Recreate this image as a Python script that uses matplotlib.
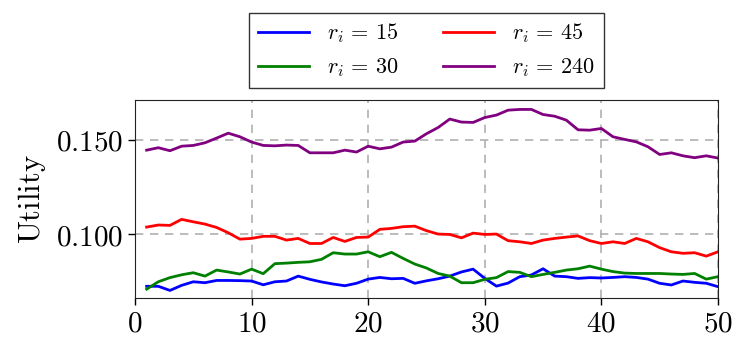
import numpy as np
import matplotlib
matplotlib.use('Agg')
import matplotlib.pyplot as plt
from matplotlib.ticker import FuncFormatter

plt.rcParams['mathtext.fontset'] = 'cm'
plt.rcParams['font.family'] = ['DejaVu Serif']

rounds = list(range(1, 51))

# r_i = 15
util_15 = [0.0723, 0.0723, 0.0701, 0.0728, 0.0747, 0.0742, 0.0754, 0.0754, 0.0753, 0.0751,
           0.0731, 0.0747, 0.0751, 0.0777, 0.0760, 0.0746, 0.0735, 0.0726, 0.0739, 0.0761,
           0.0770, 0.0763, 0.0765, 0.0739, 0.0752, 0.0763, 0.0777, 0.0799, 0.0814, 0.0765,
           0.0724, 0.0740, 0.0774, 0.0783, 0.0816, 0.0777, 0.0774, 0.0765, 0.0769, 0.0767,
           0.0770, 0.0774, 0.0770, 0.0761, 0.0739, 0.0730, 0.0751, 0.0744, 0.0739, 0.0721]
# r_i = 30
util_30 = [0.0708, 0.0747, 0.0769, 0.0784, 0.0795, 0.0777, 0.0809, 0.0799, 0.0788, 0.0814,
           0.0790, 0.0843, 0.0846, 0.0850, 0.0853, 0.0866, 0.0901, 0.0894, 0.0894, 0.0906,
           0.0880, 0.0903, 0.0871, 0.0841, 0.0820, 0.0791, 0.0777, 0.0742, 0.0742, 0.0760,
           0.0769, 0.0801, 0.0797, 0.0774, 0.0786, 0.0797, 0.0809, 0.0816, 0.0830, 0.0814,
           0.0801, 0.0793, 0.0791, 0.0791, 0.0791, 0.0788, 0.0786, 0.0791, 0.0761, 0.0774]
# r_i = 45
util_45 = [0.1037, 0.1048, 0.1046, 0.1078, 0.1065, 0.1053, 0.1035, 0.1007, 0.0973, 0.0977,
           0.0988, 0.0988, 0.0968, 0.0977, 0.0950, 0.0950, 0.0982, 0.0961, 0.0982, 0.0984,
           0.1025, 0.1030, 0.1039, 0.1042, 0.1018, 0.1000, 0.0998, 0.0980, 0.1005, 0.0998,
           0.1000, 0.0965, 0.0959, 0.0950, 0.0968, 0.0977, 0.0984, 0.0990, 0.0965, 0.0950,
           0.0959, 0.0950, 0.0977, 0.0959, 0.0928, 0.0906, 0.0898, 0.0901, 0.0883, 0.0906]
# r_i = 240
util_240 = [0.1445, 0.1458, 0.1442, 0.1466, 0.1470, 0.1484, 0.1509, 0.1535, 0.1516, 0.1488,
            0.1470, 0.1468, 0.1472, 0.1470, 0.1431, 0.1431, 0.1431, 0.1445, 0.1435, 0.1466,
            0.1452, 0.1461, 0.1488, 0.1493, 0.1532, 0.1565, 0.1610, 0.1594, 0.1592, 0.1618,
            0.1631, 0.1657, 0.1661, 0.1661, 0.1634, 0.1625, 0.1604, 0.1553, 0.1551, 0.1560,
            0.1516, 0.1502, 0.1489, 0.1463, 0.1422, 0.1431, 0.1415, 0.1405, 0.1415, 0.1403]

series = [
    (util_15, 'blue', r'$r_i\,=\,15$'),
    (util_30, 'green', r'$r_i\,=\,30$'),
    (util_45, 'red', r'$r_i\,=\,45$'),
    (util_240, 'purple', r'$r_i\,=\,240$'),
]

fig = plt.figure(figsize=(7.47, 3.55), dpi=100)
ax = fig.add_axes([0.1807, 0.1606, 0.7804, 0.5577])

for vals, color, label in series:
    ax.plot(rounds, vals, color=color, lw=2, label=label)

ax.set_xlim(0, 50)
ax.set_ylim(0.0661, 0.1711)
ax.set_xticks([0, 10, 20, 30, 40, 50])
ax.set_yticks([0.100, 0.150])
ax.xaxis.set_major_formatter(FuncFormatter(lambda v, p: '$%d$' % v))
ax.yaxis.set_major_formatter(FuncFormatter(lambda v, p: '$%.3f$' % v))
ax.tick_params(labelsize=21, length=5, width=1)
ax.set_ylabel(r'$\mathrm{Utility}$', fontsize=22, labelpad=6)
ax.grid(True, ls='--', color='#b0b0b0', lw=1.2, dashes=(5, 4))
for s in ax.spines.values():
    s.set_color('#222222')

ax.legend(loc='lower center', bbox_to_anchor=(0.5, 1.06), ncol=2, fontsize=16,
          fancybox=False, edgecolor='#333333', framealpha=1, borderaxespad=0,
          handlelength=2.3, columnspacing=2.0)

fig.savefig('out.png', dpi=100)
